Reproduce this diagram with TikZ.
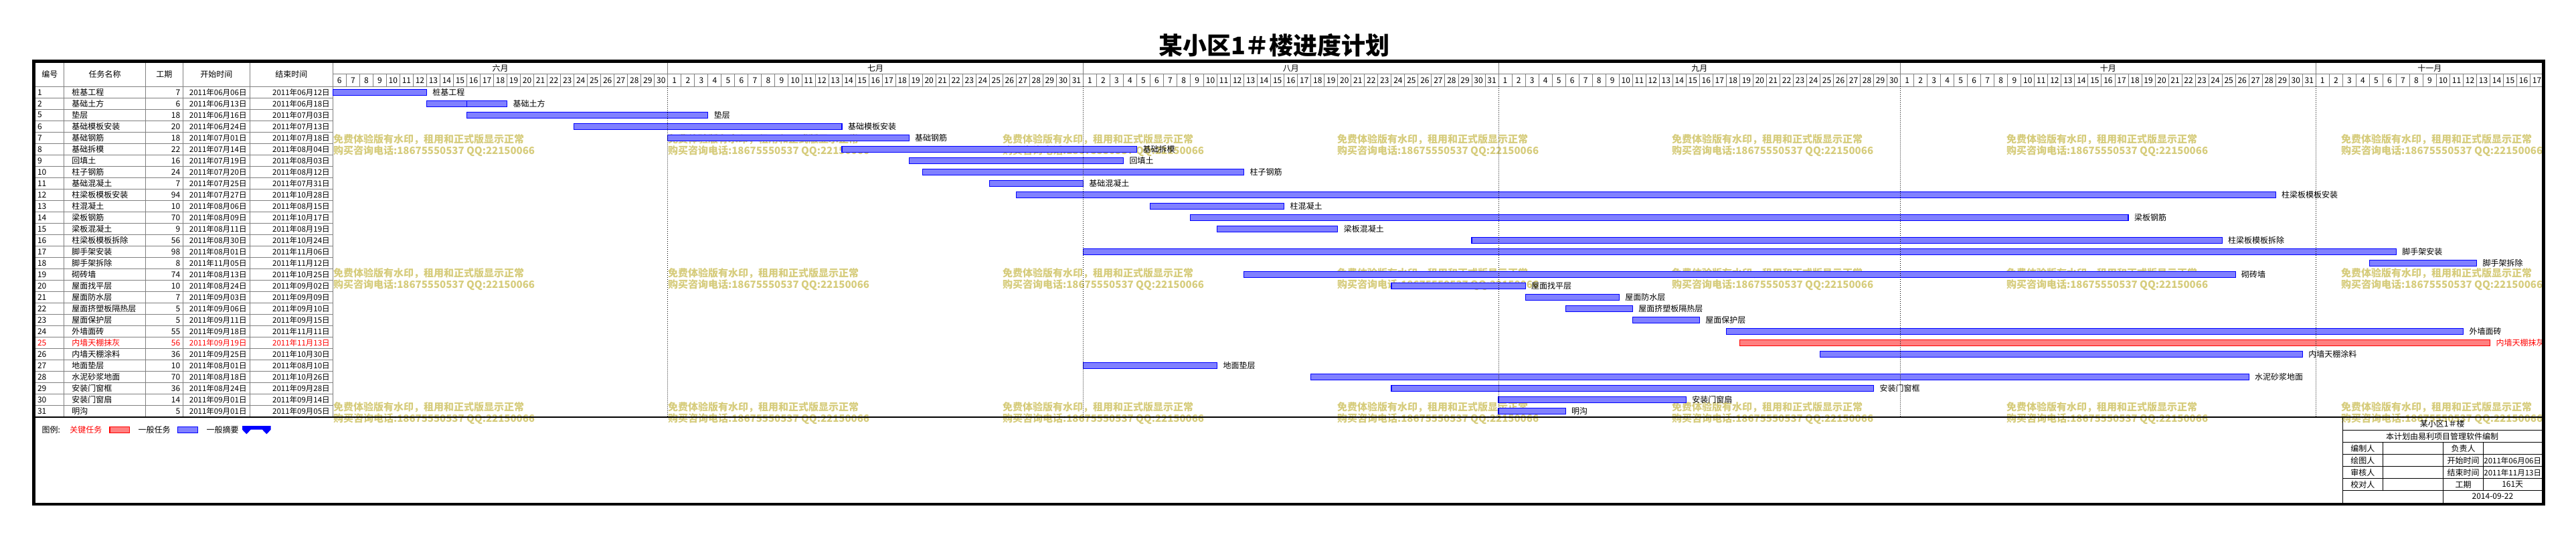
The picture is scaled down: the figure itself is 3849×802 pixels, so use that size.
\documentclass[tikz,border=0pt]{standalone}
\usepackage{fontspec}
\newfontfamily\cjk{Noto Sans CJK SC}
\definecolor{bf0}{RGB}{128,128,255}
\definecolor{bf1}{RGB}{255,128,128}
\definecolor{bd0}{RGB}{0,0,255}
\definecolor{bd1}{RGB}{255,0,0}
\definecolor{lt0}{RGB}{0,0,0}
\definecolor{lt1}{RGB}{255,0,0}
\definecolor{gridgray}{RGB}{128,128,128}
\definecolor{wmark}{RGB}{214,204,124}
\begin{document}
\begin{tikzpicture}[x=1pt,y=-1pt,
  every node/.style={inner sep=0pt, outer sep=0pt},
  txt/.style={font=\cjk\fontsize{12}{14}\selectfont},
  dtxt/.style={font=\cjk\fontsize{11.5}{14}\selectfont},
  wm/.style={font=\cjk\bfseries\fontsize{15}{17}\selectfont, text=wmark, anchor=west},
  gridline/.style={draw=gridgray, line width=1pt},
  blk/.style={draw=black, line width=1pt},
  monthline/.style={draw=black, line width=1pt, dash pattern=on 1pt off 2pt},
]
\useasboundingbox (0,0) rectangle (3849,802);

% title
\node[font=\cjk\bfseries\fontsize{36}{40}\selectfont] (title) at (1904,67.5) {某小区1＃楼进度计划};

% watermarks
\foreach \wx in {498,998,1498,1998,2498,2998,3498}{
  \foreach \wy in {208,408,608}{
    \node[wm] (wa\wx-\wy) at (\wx,\wy) {免费体验版有水印，租用和正式版显示正常};
    \node[wm] (wb\wx-\wy) at (\wx,\wy+18) {购买咨询电话:18675550537 QQ:22150066};
  }
}

% table grid
\foreach \cx in {95.7,217.3,273.3,373.3,497.3}
  \draw[gridline] (\cx,93.3) -- (\cx,622.7);
\foreach \k in {0,...,28}
  \draw[gridline] (52.7,129.3+17*\k) -- (497.3,129.3+17*\k);
\draw[gridline] (497.3,129.3) -- (3800,129.3);
\draw[gridline] (497.3,111) -- (3800,111);
\foreach \d in {25,56,87,117,148}
  \draw[gridline] ({497.3+20.02*\d},93.3) -- ({497.3+20.02*\d},111);
\foreach \d in {1,...,164}
  \draw[gridline] ({497.3+20.02*\d},111) -- ({497.3+20.02*\d},129.3);

% header
\node[txt] (h1) at (74.3,111.3) {编号};
\node[txt] (h2) at (156.5,111.3) {任务名称};
\node[txt] (h3) at (245.3,111.3) {工期};
\node[txt] (h4) at (323.3,111.3) {开始时间};
\node[txt] (h5) at (435.3,111.3) {结束时间};

% months
\foreach \mc/\mn [count=\j] in {12.5/六月, 40.5/七月, 71.5/八月, 102/九月, 132.5/十月, 156.5/十一月}
  \node[txt] (m\j) at ({497.3+20.02*\mc},102) {\mn};

% day numbers
\foreach \m/\off/\first/\last in {6/-6/6/30, 7/24/1/31, 8/55/1/31, 9/86/1/30, 10/116/1/31, 11/147/1/17}{
  \foreach \n in {\first,...,\last}
    \node[txt] (d\m-\n) at ({497.3+20.02*(\n+\off)+10.01},120.2) {\n};
}

% rows
\foreach \n/\nm/\du/\st/\en/\k/\ds/\de [count=\i from 0] in {
1/桩基工程/7/06月06日/06月12日/0/0/7,
2/基础土方/6/06月13日/06月18日/0/7/13,
5/垫层/18/06月16日/07月03日/0/10/28,
6/基础模板安装/20/06月24日/07月13日/0/18/38,
7/基础钢筋/18/07月01日/07月18日/0/25/43,
8/基础拆模/22/07月14日/08月04日/0/38/60,
9/回填土/16/07月19日/08月03日/0/43/59,
10/柱子钢筋/24/07月20日/08月12日/0/44/68,
11/基础混凝土/7/07月25日/07月31日/0/49/56,
12/柱梁板模板安装/94/07月27日/10月28日/0/51/145,
13/柱混凝土/10/08月06日/08月15日/0/61/71,
14/梁板钢筋/70/08月09日/10月17日/0/64/134,
15/梁板混凝土/9/08月11日/08月19日/0/66/75,
16/柱梁板模板拆除/56/08月30日/10月24日/0/85/141,
17/脚手架安装/98/08月01日/11月06日/0/56/154,
18/脚手架拆除/8/11月05日/11月12日/0/152/160,
19/砌砖墙/74/08月13日/10月25日/0/68/142,
20/屋面找平层/10/08月24日/09月02日/0/79/89,
21/屋面防水层/7/09月03日/09月09日/0/89/96,
22/屋面挤塑板隔热层/5/09月06日/09月10日/0/92/97,
23/屋面保护层/5/09月11日/09月15日/0/97/102,
24/外墙面砖/55/09月18日/11月11日/0/104/159,
25/内墙天棚抹灰/56/09月19日/11月13日/1/105/161,
26/内墙天棚涂料/36/09月25日/10月30日/0/111/147,
27/地面垫层/10/08月01日/08月10日/0/56/66,
28/水泥砂浆地面/70/08月18日/10月26日/0/73/143,
29/安装门窗框/36/08月24日/09月28日/0/79/115,
30/安装门窗扇/14/09月01日/09月14日/0/87/101,
31/明沟/5/09月01日/09月05日/0/87/92}{
  \pgfmathsetmacro\ty{129.3+17*\i}
  \pgfmathsetmacro\tc{\ty+8.5}
  \node[txt, text=lt\k, anchor=west] (no\i) at (56,\tc) {\n};
  \node[txt, text=lt\k, anchor=west] (nm\i) at (107.3,\tc) {\nm};
  \node[txt, text=lt\k, anchor=east] (du\i) at (269.3,\tc) {\du};
  \node[dtxt, text=lt\k, anchor=east] (st\i) at (368.5,\tc) {2011年\st};
  \node[dtxt, text=lt\k, anchor=east] (en\i) at (492.7,\tc) {2011年\en};
  \path[draw=bd\k, fill=bf\k, line width=1.2pt] ({497.3+20.02*\ds},\ty+4) rectangle ({497.3+20.02*\de},\ty+13);
  \node[txt, text=lt\k, anchor=west] (lb\i) at ({497.3+20.02*\de+9},\tc) {\nm};
}
% split mark in the second bar
\draw[draw=bd0, line width=1.2pt] ({497.3+20.02*10},150.3) -- ({497.3+20.02*10},159.3);

% month dotted lines
\foreach \d in {25,56,87,117,148}
  \draw[monthline] ({497.3+20.02*\d},129.3) -- ({497.3+20.02*\d},622);

% table bottom line
\draw[line width=1.5pt] (52.7,622.8) -- (3798,622.8);

% legend
\node[txt, anchor=west] (lg0) at (62.7,641.7) {图例:};
\node[txt, text=red, anchor=west] (lg1) at (104.3,641.7) {关键任务};
\path[draw=bd1, fill=bf1, line width=1.2pt] (164,637.3) rectangle (193.7,646.7);
\node[txt, anchor=west] (lg2) at (206.7,641.7) {一般任务};
\path[draw=bd0, fill=bf0, line width=1.2pt] (265.7,637.3) rectangle (295.3,646.7);
\node[txt, anchor=west] (lg3) at (308.7,641.7) {一般摘要};
\fill[bd0] (362,636) -- (404.7,636) -- (404.7,641.7) -- (398.3,648.3) -- (392,641.7)
  -- (374.7,641.7) -- (368.3,648.3) -- (362,641.7) -- cycle;

% title block
\draw[blk] (3500.3,622.8) -- (3500.3,750.7);
\foreach \hy in {642.7,660.7,678.7,696.7,714.7,732.7}
  \draw[blk] (3500.3,\hy) -- (3798,\hy);
\draw[blk] (3560.3,660.7) -- (3560.3,732.7);
\draw[blk] (3650.7,660.7) -- (3650.7,750.7);
\draw[blk] (3710.3,660.7) -- (3710.3,732.7);
\node[txt] (tb1) at (3649.2,633) {某小区1＃楼};
\node[txt] (tb2) at (3649.2,651.7) {本计划由易利项目管理软件编制};
\node[txt] (tb3) at (3530.3,669.7) {编制人};
\node[txt] (tb4) at (3680.5,669.7) {负责人};
\node[txt] (tb5) at (3530.3,687.7) {绘图人};
\node[txt] (tb6) at (3680.5,687.7) {开始时间};
\node[dtxt] (tb7) at (3754.2,687.7) {2011年06月06日};
\node[txt] (tb8) at (3530.3,705.7) {审核人};
\node[txt] (tb9) at (3680.5,705.7) {结束时间};
\node[dtxt] (tb10) at (3754.2,705.7) {2011年11月13日};
\node[txt] (tb11) at (3530.3,723.7) {校对人};
\node[txt] (tb12) at (3680.5,723.7) {工期};
\node[txt] (tb13) at (3754.2,723.7) {161天};
\node[txt] (tb14) at (3724.4,741.7) {2014-09-22};

% outer frame
\draw[line width=4.5pt] (50.5,91.3) rectangle (3800.6,752.8);
\end{tikzpicture}
\end{document}
